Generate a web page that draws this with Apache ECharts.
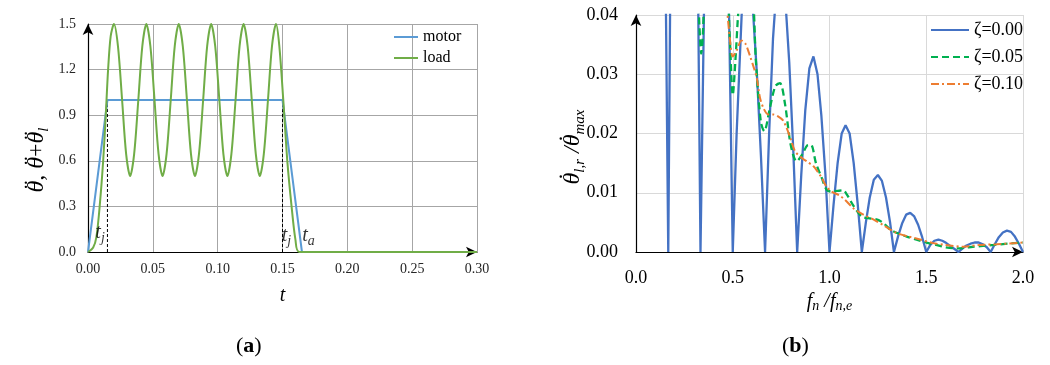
<!DOCTYPE html>
<html><head><meta charset="utf-8">
<script src="https://cdn.jsdelivr.net/npm/echarts@6/dist/echarts.min.js"></script>
<style>html,body{margin:0;padding:0;background:#fff}#c{width:1050px;height:365px}</style>
</head><body><div id="c"></div>
<script>
// ---------- panel (a) data ----------
const motorTime  = [0, 0.015, 0.15, 0.165, 0.30];
const motorAccel = [0, 1.0, 1.0, 0, 0];
const loadTime = [0,0.004,0.0065,0.009,0.0117,0.0137,0.0155,0.0175,0.02,
  0.0231,0.0263,0.0294,0.0325,0.0356,0.0388,0.0419,0.045,
  0.0481,0.0513,0.0544,0.0575,0.0606,0.0638,0.0669,0.07,
  0.0731,0.0763,0.0794,0.0825,0.0856,0.0888,0.0919,0.095,
  0.0981,0.1013,0.1044,0.1075,0.1106,0.1138,0.1169,0.12,
  0.1231,0.1263,0.1294,0.1325,0.1356,0.1388,0.1419,0.145,
  0.1475,0.1506,0.1537,0.157,0.16,0.163,0.30];
const loadAccel = [0,0.03,0.1,0.3,0.6,0.9,1.2,1.42,1.5,
  1.354,1.0,0.646,0.5,0.646,1.0,1.354,1.5,
  1.354,1.0,0.646,0.5,0.646,1.0,1.354,1.5,
  1.354,1.0,0.646,0.5,0.646,1.0,1.354,1.5,
  1.354,1.0,0.646,0.5,0.646,1.0,1.354,1.5,
  1.354,1.0,0.646,0.5,0.646,1.0,1.354,1.5,
  1.36,1.0,0.6,0.3,0.08,0,0];
const markerTimes = [0.015, 0.15];       // t_j dashed guides
const markerLevel = [0, 1.0];
const annoNames = ['j', 'j', 'a'];      // t_j, t_j, t_a
const annoTime  = [0.0093, 0.153, 0.170];
const annoValue = [0.125, 0.105, 0.105];
const timeTicks = [0, 0.05, 0.10, 0.15, 0.20, 0.25, 0.30];
const accelTicks = [0, 0.3, 0.6, 0.9, 1.2, 1.5];

// ---------- panel (b) data ----------
const z0F = [0.12,0.13,0.145,0.155,0.1667, 0.176,0.19,0.25,0.31,0.322,0.3333,
  0.351,0.37,0.4167,0.46,0.481,0.5,
  0.52,0.546,0.57,0.59,0.606,0.625,0.646,0.667,
  0.688,0.708,0.729,0.75,0.771,0.792,0.813,0.833,
  0.854,0.875,0.896,0.917,0.938,0.958,0.979,1.0,
  1.021,1.042,1.063,1.083,1.104,1.125,1.146,1.167,
  1.188,1.208,1.229,1.25,1.271,1.292,1.313,1.333,
  1.354,1.375,1.396,1.417,1.438,1.458,1.479,1.5,
  1.521,1.542,1.563,1.583,1.604,1.625,1.646,1.667,
  1.688,1.708,1.729,1.75,1.771,1.792,1.813,1.833,
  1.854,1.875,1.896,1.917,1.938,1.958,1.979,2.0];
const z0V = [0.3,0.17,0.09,0.04,0, 0.04,0.1,0.18,0.09,0.04,0,
  0.04,0.075,0.12,0.075,0.04,0,
  0.02,0.04,0.05,0.05,0.04,0.03,0.016,0,
  0.02,0.036,0.046,0.049,0.043,0.032,0.017,0,
  0.013,0.024,0.031,0.033,0.030,0.023,0.013,0,
  0.008,0.015,0.020,0.0214,0.020,0.015,0.008,0,
  0.005,0.0092,0.0122,0.013,0.012,0.0092,0.005,0,
  0.0026,0.0048,0.0063,0.0066,0.006,0.0046,0.0025,0,
  0.0012,0.0019,0.0021,0.0019,0.0015,0.001,0.0005,0,
  0.0006,0.0011,0.0014,0.0016,0.0016,0.0013,0.0008,0,
  0.0013,0.0025,0.0033,0.0036,0.0034,0.0026,0.0014,0];
const z5F = [0.3,0.32,0.328,0.337,0.346,0.355,0.4,0.47,0.485,0.5,0.515,0.53,0.56,0.6,0.62,0.645,0.663,
  0.69,0.72,0.744,0.77,0.8,0.83,0.86,0.885,0.904,0.93,0.96,0.985,1.01,1.04,1.07,1.09,1.12,1.166,
  1.2,1.244,1.278,1.313,1.35,1.399,1.45,1.5,1.55,1.6,1.66,1.72,1.78,1.85,1.92,2.0];
const z5V = [0.06,0.045,0.038,0.0335,0.037,0.045,0.06,0.045,0.036,0.0265,0.033,0.041,0.05,0.045,0.032,0.022,0.0204,
  0.024,0.028,0.0285,0.025,0.018,0.0153,0.0165,0.018,0.0181,0.015,0.0125,0.0105,0.0102,0.0103,0.0104,0.0097,0.008,0.006,
  0.0057,0.0055,0.0049,0.0038,0.0032,0.0026,0.0021,0.0016,0.0012,0.0008,0.0006,0.0008,0.001,0.0012,0.0014,0.0016];
const z10F = [0.4,0.45,0.47,0.485,0.5,0.52,0.545,0.565,0.59,0.61,0.624,0.641,0.66,0.684,0.71,0.734,0.76,0.779,
  0.8,0.822,0.856,0.886,0.916,0.94,0.96,0.985,1.011,1.054,1.08,1.123,1.17,1.226,1.28,1.347,1.41,1.468,1.536,
  1.6,1.692,1.778,1.864,2.0];
const z10V = [0.055,0.046,0.041,0.036,0.033,0.034,0.0357,0.0352,0.033,0.031,0.0294,0.026,0.0242,0.0232,0.0232,0.0229,0.0222,0.0209,
  0.019,0.017,0.0159,0.0152,0.0145,0.0135,0.0125,0.011,0.0102,0.0095,0.0088,0.0074,0.0064,0.0055,0.0045,0.0032,0.0026,0.0021,0.0015,
  0.0012,0.0009,0.0012,0.0013,0.0016];
const freqTicks = [0, 0.5, 1.0, 1.5, 2.0];
const ratioTicks = [0, 0.01, 0.02, 0.03, 0.04];

// ---------- helpers ----------
const zip = (a, b) => a.map((v, i) => [v, b[i]]);
const serif = 'Liberation Serif';
const mctx = document.createElement('canvas').getContext('2d');
function fontStr(size, italic) { return (italic ? 'italic ' : '') + size + 'px "' + serif + '"'; }
function textW(t, size, italic) { mctx.font = fontStr(size, italic); return mctx.measureText(t).width; }
// parts: {t, size, italic, dy, accent}; builds a rotated (bottom-to-top) label group centred at (cx, cy)
function mathLabel(parts, cx, cy) {
  const widths = parts.map(p => textW(p.t, p.size, p.italic));
  const total = widths.reduce((a, b) => a + b, 0);
  let x = -total / 2;
  const children = [];
  parts.forEach((p, i) => {
    children.push({type: 'text', x: x, y: p.dy || 0,
      style: {text: p.t, font: fontStr(p.size, p.italic), fill: '#000', align: 'left', verticalAlign: 'middle'}});
    if (p.accent) {
      children.push({type: 'text', x: x + widths[i] / 2 + 2, y: -4,
        style: {text: p.accent, font: fontStr(p.size, false), fill: '#000', align: 'center', verticalAlign: 'middle'}});
    }
    x += widths[i];
  });
  return {type: 'group', x: cx, y: cy, rotation: Math.PI / 2, children: children, silent: true};
}
const leftYLabel = [
  {t: '\u03B8', size: 24, italic: true, accent: '\u00A8'},
  {t: ', ', size: 24, italic: false},
  {t: '\u03B8', size: 24, italic: true, accent: '\u00A8'},
  {t: '+', size: 24, italic: false},
  {t: '\u03B8', size: 24, italic: true, accent: '\u00A8'},
  {t: 'l', size: 15, italic: true, dy: 7}
];
const rightYLabel = [
  {t: '\u03B8', size: 24, italic: true, accent: '\u02D9'},
  {t: 'l,r', size: 15, italic: true, dy: 7},
  {t: ' /', size: 24, italic: true},
  {t: '\u03B8', size: 24, italic: true, accent: '\u02D9'},
  {t: 'max', size: 15, italic: true, dy: 7}
];

const chart = echarts.init(document.getElementById('c'), null, {renderer: 'canvas'});
const arrowLine = {show: true, symbol: ['none', 'arrow'], symbolSize: [8, 11], lineStyle: {color: '#000', width: 1.2}};

chart.setOption({
  animation: false,
  backgroundColor: '#fff',
  grid: [
    {left: 88, top: 24, width: 389, height: 228},
    {left: 636, top: 15, width: 387, height: 237}
  ],
  xAxis: [
    {gridIndex: 0, type: 'value', min: timeTicks[0], max: timeTicks[timeTicks.length - 1], interval: 0.05,
     axisLine: arrowLine, axisTick: {show: false},
     splitLine: {show: true, lineStyle: {color: '#a6a6a6', width: 1}},
     axisLabel: {fontFamily: serif, fontSize: 14, color: '#262626', margin: 10, formatter: v => v.toFixed(2)},
     name: 't', nameLocation: 'middle', nameGap: 34,
     nameTextStyle: {fontFamily: serif, fontStyle: 'italic', fontSize: 20, color: '#000'}},
    {gridIndex: 1, type: 'value', min: freqTicks[0], max: freqTicks[freqTicks.length - 1], interval: 0.5,
     axisLine: arrowLine, axisTick: {show: false},
     splitLine: {show: true, lineStyle: {color: '#d9d9d9', width: 1}},
     axisLabel: {fontFamily: serif, fontSize: 18, color: '#000', margin: 17, formatter: v => v.toFixed(1)},
     name: '{a|f}{s|n}{a| /f}{s|n,e}', nameLocation: 'middle', nameGap: 35,
     nameTextStyle: {rich: {
       a: {fontFamily: serif, fontStyle: 'italic', fontSize: 20, color: '#000'},
       s: {fontFamily: serif, fontStyle: 'italic', fontSize: 14, color: '#000', verticalAlign: 'bottom', padding: [8, 0, 0, 0]}}}}
  ],
  yAxis: [
    {gridIndex: 0, type: 'value', min: accelTicks[0], max: accelTicks[accelTicks.length - 1], interval: 0.3,
     axisLine: arrowLine, axisTick: {show: false},
     splitLine: {show: true, lineStyle: {color: '#a6a6a6', width: 1}},
     axisLabel: {fontFamily: serif, fontSize: 14, color: '#262626', margin: 12, formatter: v => v.toFixed(1)}},
    {gridIndex: 1, type: 'value', min: ratioTicks[0], max: ratioTicks[ratioTicks.length - 1], interval: 0.01,
     axisLine: arrowLine, axisTick: {show: false},
     splitLine: {show: true, lineStyle: {color: '#d9d9d9', width: 1}},
     axisLabel: {fontFamily: serif, fontSize: 18, color: '#000', margin: 18, formatter: v => v.toFixed(2)}}
  ],
  legend: [
    {left: 393, top: 29, padding: 0, orient: 'vertical', itemWidth: 24, itemHeight: 12, itemGap: 5,
     data: ['motor', 'load'], itemStyle: {opacity: 0},
     textStyle: {fontFamily: serif, fontSize: 16, color: '#000', lineHeight: 16}},
    {left: 930, top: 21, padding: 0, orient: 'vertical', itemWidth: 38, itemHeight: 14, itemGap: 9,
     data: ['\u03B6=0.00', '\u03B6=0.05', '\u03B6=0.10'], itemStyle: {opacity: 0},
     textStyle: {fontFamily: serif, fontSize: 18, color: '#000', lineHeight: 17}}
  ],
  series: [
    {name: 'motor', type: 'line', xAxisIndex: 0, yAxisIndex: 0, symbol: 'none',
     data: zip(motorTime, motorAccel), lineStyle: {color: '#5B9BD5', width: 2}, itemStyle: {color: '#5B9BD5'}, z: 3},
    {name: 'load', type: 'line', xAxisIndex: 0, yAxisIndex: 0, symbol: 'none', smooth: 0.3,
     data: zip(loadTime, loadAccel), lineStyle: {color: '#70AD47', width: 2}, itemStyle: {color: '#70AD47'}, z: 4},
    {name: 'guide1', type: 'line', xAxisIndex: 0, yAxisIndex: 0, symbol: 'none', silent: true,
     data: zip([markerTimes[0], markerTimes[0]], markerLevel), lineStyle: {color: '#000', width: 1, type: [3, 2]}, z: 2},
    {name: 'guide2', type: 'line', xAxisIndex: 0, yAxisIndex: 0, symbol: 'none', silent: true,
     data: zip([markerTimes[1], markerTimes[1]], markerLevel), lineStyle: {color: '#000', width: 1, type: [3, 2]}, z: 2},
    {name: 'anno', type: 'scatter', xAxisIndex: 0, yAxisIndex: 0, symbolSize: 1, silent: true,
     itemStyle: {color: 'transparent'},
     data: annoTime.map((t, i) => [t, annoValue[i], annoNames[i]]),
     label: {show: true, position: 'inside',
       formatter: p => '{t|t}{s|' + p.data[2] + '}',
       rich: {t: {fontFamily: serif, fontStyle: 'italic', fontSize: 20, color: '#000'},
              s: {fontFamily: serif, fontStyle: 'italic', fontSize: 14, color: '#000', padding: [10, 0, 0, 0]}}}, z: 6},
    {name: '\u03B6=0.00', type: 'line', xAxisIndex: 1, yAxisIndex: 1, symbol: 'none', clip: true,
     data: zip(z0F, z0V), lineStyle: {color: '#4472C4', width: 2.3}, itemStyle: {color: '#4472C4'}, z: 3},
    {name: '\u03B6=0.05', type: 'line', xAxisIndex: 1, yAxisIndex: 1, symbol: 'none', clip: true, smooth: 0.3,
     data: zip(z5F, z5V), lineStyle: {color: '#00B050', width: 2.3, type: [7, 4]}, itemStyle: {color: '#00B050'}, z: 4},
    {name: '\u03B6=0.10', type: 'line', xAxisIndex: 1, yAxisIndex: 1, symbol: 'none', clip: true, smooth: 0.3,
     data: zip(z10F, z10V), lineStyle: {color: '#ED7D31', width: 2, type: [8, 3, 2, 3]}, itemStyle: {color: '#ED7D31'}, z: 5}
  ],
  graphic: [
    mathLabel(leftYLabel, 37, 160),
    mathLabel(rightYLabel, 573, 147),
    {type: 'text', left: 236, top: 335, style: {text: '{p|(}{b|a}{p|)}', rich: {
      p: {fontFamily: serif, fontSize: 22, fill: '#000'}, b: {fontFamily: serif, fontSize: 22, fontWeight: 'bold', fill: '#000'}}}},
    {type: 'text', left: 782, top: 335, style: {text: '{p|(}{b|b}{p|)}', rich: {
      p: {fontFamily: serif, fontSize: 22, fill: '#000'}, b: {fontFamily: serif, fontSize: 22, fontWeight: 'bold', fill: '#000'}}}}
  ]
});
</script></body></html>
